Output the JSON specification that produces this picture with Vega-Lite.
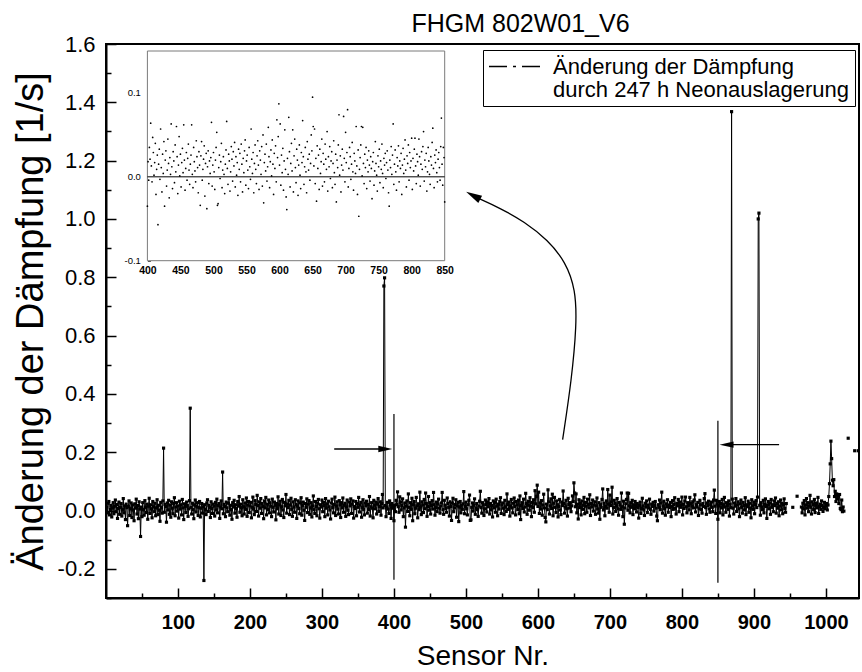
{
"$schema":"https://vega.github.io/schema/vega-lite/v6.json",
"width":753,"height":554,
"autosize":{"type":"none"},
"padding":{"left":106,"top":44,"right":3,"bottom":74},
"background":"white",
"config":{"view":{"stroke":"black","strokeWidth":2},"font":"Liberation Sans","axis":{"grid":false,"labelColor":"black","titleColor":"black","tickColor":"black","domainColor":"black"}},
"datasets":{
"sensors":[
{"x":1,"y":0.012},{"x":2,"y":-0.008},{"x":3,"y":0.025},{"x":4,"y":0.031},{"x":5,"y":-0.015},{"x":6,"y":0.004},{"x":7,"y":0.018},{"x":8,"y":-0.022},{"x":9,"y":0.009},{"x":10,"y":0.027},
{"x":11,"y":-0.011},{"x":12,"y":0.015},{"x":13,"y":0.036},{"x":14,"y":-0.004},{"x":15,"y":0.021},{"x":16,"y":-0.027},{"x":17,"y":0.007},{"x":18,"y":0.029},{"x":19,"y":-0.013},{"x":20,"y":0.011},
{"x":21,"y":0.024},{"x":22,"y":-0.019},{"x":23,"y":0.003},{"x":24,"y":0.041},{"x":25,"y":-0.008},{"x":26,"y":0.016},{"x":27,"y":-0.031},{"x":28,"y":0.022},{"x":29,"y":0.010},{"x":30,"y":-0.052},
{"x":31,"y":0.014},{"x":32,"y":0.033},{"x":33,"y":-0.017},{"x":34,"y":0.006},{"x":35,"y":0.026},{"x":36,"y":-0.024},{"x":37,"y":0.019},{"x":38,"y":0.002},{"x":39,"y":-0.035},{"x":40,"y":0.023},
{"x":41,"y":0.008},{"x":42,"y":0.039},{"x":43,"y":-0.012},{"x":44,"y":0.017},{"x":45,"y":-0.028},{"x":46,"y":0.030},{"x":47,"y":0.005},{"x":48,"y":-0.089},{"x":49,"y":0.012},{"x":50,"y":-0.021},
{"x":51,"y":0.027},{"x":52,"y":0.003},{"x":53,"y":-0.016},{"x":54,"y":0.034},{"x":55,"y":0.011},{"x":56,"y":-0.007},{"x":57,"y":0.022},{"x":58,"y":-0.030},{"x":59,"y":0.015},{"x":60,"y":0.042},
{"x":61,"y":-0.010},{"x":62,"y":0.020},{"x":63,"y":0.006},{"x":64,"y":-0.025},{"x":65,"y":0.031},{"x":66,"y":0.013},{"x":67,"y":-0.004},{"x":68,"y":0.025},{"x":69,"y":-0.018},{"x":70,"y":0.009},
{"x":71,"y":0.037},{"x":72,"y":-0.014},{"x":73,"y":0.018},{"x":74,"y":0.001},{"x":75,"y":-0.037},{"x":76,"y":0.028},{"x":77,"y":0.010},{"x":78,"y":-0.009},{"x":79,"y":0.033},{"x":80,"y":0.214},
{"x":81,"y":-0.006},{"x":82,"y":0.021},{"x":83,"y":0.014},{"x":84,"y":-0.040},{"x":85,"y":0.026},{"x":86,"y":0.002},{"x":87,"y":0.035},{"x":88,"y":-0.013},{"x":89,"y":0.019},{"x":90,"y":-0.023},
{"x":91,"y":0.030},{"x":92,"y":0.008},{"x":93,"y":-0.011},{"x":94,"y":0.024},{"x":95,"y":0.044},{"x":96,"y":-0.018},{"x":97,"y":0.012},{"x":98,"y":0.027},{"x":99,"y":-0.002},{"x":100,"y":0.016},
{"x":101,"y":-0.026},{"x":102,"y":0.032},{"x":103,"y":0.005},{"x":104,"y":0.020},{"x":105,"y":-0.015},{"x":106,"y":0.038},{"x":107,"y":0.009},{"x":108,"y":-0.031},{"x":109,"y":0.023},{"x":110,"y":0.014},
{"x":111,"y":-0.007},{"x":112,"y":0.029},{"x":113,"y":0.017},{"x":114,"y":-0.020},{"x":115,"y":0.006},{"x":116,"y":0.034},{"x":117,"y":0.351},{"x":118,"y":0.011},{"x":119,"y":-0.012},{"x":120,"y":0.025},
{"x":121,"y":0.003},{"x":122,"y":-0.028},{"x":123,"y":0.019},{"x":124,"y":0.036},{"x":125,"y":-0.005},{"x":126,"y":0.015},{"x":127,"y":0.027},{"x":128,"y":-0.017},{"x":129,"y":0.010},{"x":130,"y":0.031},
{"x":131,"y":-0.022},{"x":132,"y":0.008},{"x":133,"y":0.024},{"x":134,"y":-0.009},{"x":135,"y":0.013},{"x":136,"y":-0.240},{"x":137,"y":0.020},{"x":138,"y":0.004},{"x":139,"y":-0.014},{"x":140,"y":0.026},
{"x":141,"y":0.037},{"x":142,"y":-0.003},{"x":143,"y":0.018},{"x":144,"y":0.011},{"x":145,"y":-0.024},{"x":146,"y":0.030},{"x":147,"y":0.007},{"x":148,"y":-0.010},{"x":149,"y":0.022},{"x":150,"y":0.015},
{"x":151,"y":-0.019},{"x":152,"y":0.028},{"x":153,"y":0.002},{"x":154,"y":0.039},{"x":155,"y":-0.008},{"x":156,"y":0.017},{"x":157,"y":0.024},{"x":158,"y":-0.027},{"x":159,"y":0.012},{"x":160,"y":0.033},
{"x":161,"y":0.006},{"x":162,"y":0.132},{"x":163,"y":-0.011},{"x":164,"y":0.021},{"x":165,"y":0.014},{"x":166,"y":-0.021},{"x":167,"y":0.029},{"x":168,"y":0.009},{"x":169,"y":-0.004},{"x":170,"y":0.025},
{"x":171,"y":0.041},{"x":172,"y":-0.016},{"x":173,"y":0.018},{"x":174,"y":0.003},{"x":175,"y":-0.030},{"x":176,"y":0.027},{"x":177,"y":0.012},{"x":178,"y":0.035},{"x":179,"y":-0.009},{"x":180,"y":0.020},
{"x":181,"y":0.007},{"x":182,"y":-0.023},{"x":183,"y":0.031},{"x":184,"y":0.015},{"x":185,"y":0.048},{"x":186,"y":-0.006},{"x":187,"y":0.022},{"x":188,"y":0.010},{"x":189,"y":-0.018},{"x":190,"y":0.037},
{"x":191,"y":0.013},{"x":192,"y":-0.012},{"x":193,"y":0.026},{"x":194,"y":0.004},{"x":195,"y":0.043},{"x":196,"y":-0.020},{"x":197,"y":0.019},{"x":198,"y":0.031},{"x":199,"y":-0.007},{"x":200,"y":0.016},
{"x":201,"y":0.028},{"x":202,"y":-0.025},{"x":203,"y":0.011},{"x":204,"y":0.046},{"x":205,"y":0.005},{"x":206,"y":-0.014},{"x":207,"y":0.034},{"x":208,"y":0.021},{"x":209,"y":-0.003},{"x":210,"y":0.052},
{"x":211,"y":0.017},{"x":212,"y":-0.019},{"x":213,"y":0.030},{"x":214,"y":0.008},{"x":215,"y":0.041},{"x":216,"y":-0.010},{"x":217,"y":0.024},{"x":218,"y":0.014},{"x":219,"y":-0.028},{"x":220,"y":0.033},
{"x":221,"y":0.009},{"x":222,"y":0.045},{"x":223,"y":-0.015},{"x":224,"y":0.022},{"x":225,"y":0.003},{"x":226,"y":0.036},{"x":227,"y":-0.008},{"x":228,"y":0.027},{"x":229,"y":0.015},{"x":230,"y":-0.021},
{"x":231,"y":0.039},{"x":232,"y":0.011},{"x":233,"y":-0.005},{"x":234,"y":0.029},{"x":235,"y":0.018},{"x":236,"y":-0.032},{"x":237,"y":0.024},{"x":238,"y":0.006},{"x":239,"y":0.047},{"x":240,"y":-0.012},
{"x":241,"y":0.020},{"x":242,"y":0.032},{"x":243,"y":-0.017},{"x":244,"y":0.013},{"x":245,"y":0.038},{"x":246,"y":0.002},{"x":247,"y":-0.024},{"x":248,"y":0.028},{"x":249,"y":0.016},{"x":250,"y":0.055},
{"x":251,"y":-0.009},{"x":252,"y":0.023},{"x":253,"y":0.010},{"x":254,"y":0.035},{"x":255,"y":-0.014},{"x":256,"y":0.019},{"x":257,"y":0.042},{"x":258,"y":0.004},{"x":259,"y":-0.020},{"x":260,"y":0.030},
{"x":261,"y":0.012},{"x":262,"y":-0.006},{"x":263,"y":0.037},{"x":264,"y":0.021},{"x":265,"y":-0.027},{"x":266,"y":0.015},{"x":267,"y":0.033},{"x":268,"y":0.007},{"x":269,"y":-0.011},{"x":270,"y":0.026},
{"x":271,"y":0.044},{"x":272,"y":-0.016},{"x":273,"y":0.018},{"x":274,"y":0.029},{"x":275,"y":0.001},{"x":276,"y":-0.034},{"x":277,"y":0.024},{"x":278,"y":0.011},{"x":279,"y":0.040},{"x":280,"y":-0.007},
{"x":281,"y":0.022},{"x":282,"y":0.034},{"x":283,"y":-0.013},{"x":284,"y":0.009},{"x":285,"y":0.027},{"x":286,"y":-0.022},{"x":287,"y":0.016},{"x":288,"y":0.050},{"x":289,"y":0.003},{"x":290,"y":-0.010},
{"x":291,"y":0.031},{"x":292,"y":0.014},{"x":293,"y":-0.018},{"x":294,"y":0.025},{"x":295,"y":0.038},{"x":296,"y":0.006},{"x":297,"y":-0.026},{"x":298,"y":0.020},{"x":299,"y":0.012},{"x":300,"y":0.036},
{"x":301,"y":-0.004},{"x":302,"y":0.028},{"x":303,"y":0.017},{"x":304,"y":-0.021},{"x":305,"y":0.041},{"x":306,"y":0.008},{"x":307,"y":0.023},{"x":308,"y":-0.015},{"x":309,"y":0.032},{"x":310,"y":0.013},
{"x":311,"y":0.002},{"x":312,"y":-0.029},{"x":313,"y":0.026},{"x":314,"y":0.039},{"x":315,"y":0.010},{"x":316,"y":-0.008},{"x":317,"y":0.021},{"x":318,"y":0.046},{"x":319,"y":-0.017},{"x":320,"y":0.015},
{"x":321,"y":0.030},{"x":322,"y":0.005},{"x":323,"y":-0.012},{"x":324,"y":0.034},{"x":325,"y":0.019},{"x":326,"y":-0.024},{"x":327,"y":0.027},{"x":328,"y":0.009},{"x":329,"y":0.043},{"x":330,"y":-0.006},
{"x":331,"y":0.018},{"x":332,"y":0.025},{"x":333,"y":-0.020},{"x":334,"y":0.012},{"x":335,"y":0.036},{"x":336,"y":0.001},{"x":337,"y":-0.014},{"x":338,"y":0.029},{"x":339,"y":0.016},{"x":340,"y":0.040},
{"x":341,"y":-0.010},{"x":342,"y":0.022},{"x":343,"y":0.033},{"x":344,"y":-0.026},{"x":345,"y":0.014},{"x":346,"y":0.007},{"x":347,"y":0.031},{"x":348,"y":-0.018},{"x":349,"y":0.024},{"x":350,"y":0.011},
{"x":351,"y":0.045},{"x":352,"y":-0.005},{"x":353,"y":0.019},{"x":354,"y":0.028},{"x":355,"y":-0.023},{"x":356,"y":0.010},{"x":357,"y":0.037},{"x":358,"y":0.004},{"x":359,"y":-0.015},{"x":360,"y":0.026},
{"x":361,"y":0.016},{"x":362,"y":0.032},{"x":363,"y":-0.009},{"x":364,"y":0.021},{"x":365,"y":0.003},{"x":366,"y":0.048},{"x":367,"y":-0.019},{"x":368,"y":0.013},{"x":369,"y":0.027},{"x":370,"y":0.008},
{"x":371,"y":-0.025},{"x":372,"y":0.035},{"x":373,"y":0.018},{"x":374,"y":0.006},{"x":375,"y":0.029},{"x":376,"y":-0.012},{"x":377,"y":0.022},{"x":378,"y":0.041},{"x":379,"y":-0.003},{"x":380,"y":0.014},
{"x":381,"y":0.030},{"x":382,"y":-0.016},{"x":383,"y":0.024},{"x":384,"y":0.055},{"x":385,"y":0.009},{"x":386,"y":0.770},{"x":387,"y":0.798},{"x":388,"y":0.017},{"x":389,"y":-0.021},{"x":390,"y":0.012},
{"x":391,"y":0.028},{"x":392,"y":0.005},{"x":393,"y":-0.010},{"x":394,"y":0.033},{"x":395,"y":0.019},{"x":396,"y":-0.027},{"x":397,"y":0.024},{"x":398,"y":0.008},{"x":399,"y":0.015},{"x":400,"y":-0.035},
{"x":401,"y":0.018},{"x":402,"y":-0.004},{"x":403,"y":0.035},{"x":404,"y":0.021},{"x":405,"y":0.064},{"x":406,"y":0.013},{"x":407,"y":-0.006},{"x":408,"y":0.047},{"x":409,"y":0.029},{"x":410,"y":0.002},
{"x":411,"y":0.017},{"x":412,"y":0.040},{"x":413,"y":-0.021},{"x":414,"y":0.009},{"x":415,"y":0.026},{"x":416,"y":-0.057},{"x":417,"y":0.015},{"x":418,"y":0.033},{"x":419,"y":-0.003},{"x":420,"y":0.057},
{"x":421,"y":0.011},{"x":422,"y":-0.018},{"x":423,"y":0.027},{"x":424,"y":0.004},{"x":425,"y":0.042},{"x":426,"y":-0.035},{"x":427,"y":0.020},{"x":428,"y":0.031},{"x":429,"y":-0.011},{"x":430,"y":0.008},
{"x":431,"y":0.045},{"x":432,"y":0.016},{"x":433,"y":-0.025},{"x":434,"y":0.023},{"x":435,"y":0.003},{"x":436,"y":0.063},{"x":437,"y":0.012},{"x":438,"y":-0.014},{"x":439,"y":0.030},{"x":440,"y":0.019},
{"x":441,"y":-0.007},{"x":442,"y":0.038},{"x":443,"y":0.006},{"x":444,"y":0.060},{"x":445,"y":0.024},{"x":446,"y":-0.020},{"x":447,"y":0.014},{"x":448,"y":0.048},{"x":449,"y":0.001},{"x":450,"y":0.027},
{"x":451,"y":-0.012},{"x":452,"y":0.017},{"x":453,"y":0.034},{"x":454,"y":0.005},{"x":455,"y":0.062},{"x":456,"y":0.020},{"x":457,"y":-0.016},{"x":458,"y":0.010},{"x":459,"y":0.029},{"x":460,"y":-0.004},
{"x":461,"y":0.022},{"x":462,"y":0.039},{"x":463,"y":0.008},{"x":464,"y":-0.009},{"x":465,"y":0.015},{"x":466,"y":0.026},{"x":467,"y":0.062},{"x":468,"y":0.003},{"x":469,"y":-0.013},{"x":470,"y":0.035},
{"x":471,"y":0.018},{"x":472,"y":0.007},{"x":473,"y":-0.006},{"x":474,"y":0.043},{"x":475,"y":0.024},{"x":476,"y":0.011},{"x":477,"y":-0.019},{"x":478,"y":0.030},{"x":479,"y":0.014},{"x":480,"y":-0.034},
{"x":481,"y":0.025},{"x":482,"y":0.042},{"x":483,"y":-0.004},{"x":484,"y":0.009},{"x":485,"y":0.021},{"x":486,"y":0.037},{"x":487,"y":-0.023},{"x":488,"y":0.016},{"x":489,"y":0.028},{"x":490,"y":-0.038},
{"x":491,"y":0.012},{"x":492,"y":0.031},{"x":493,"y":-0.008},{"x":494,"y":0.019},{"x":495,"y":0.004},{"x":496,"y":0.023},{"x":497,"y":0.065},{"x":498,"y":-0.011},{"x":499,"y":0.014},{"x":500,"y":0.029},
{"x":501,"y":0.006},{"x":502,"y":-0.015},{"x":503,"y":0.020},{"x":504,"y":0.035},{"x":505,"y":0.053},{"x":506,"y":-0.034},{"x":507,"y":-0.032},{"x":508,"y":0.011},{"x":509,"y":0.026},{"x":510,"y":-0.002},
{"x":511,"y":0.018},{"x":512,"y":0.040},{"x":513,"y":-0.013},{"x":514,"y":0.008},{"x":515,"y":0.024},{"x":516,"y":0.003},{"x":517,"y":-0.020},{"x":518,"y":0.015},{"x":519,"y":0.032},{"x":520,"y":0.066},
{"x":521,"y":0.010},{"x":522,"y":-0.009},{"x":523,"y":0.027},{"x":524,"y":0.019},{"x":525,"y":-0.017},{"x":526,"y":0.006},{"x":527,"y":0.036},{"x":528,"y":0.021},{"x":529,"y":-0.005},{"x":530,"y":0.030},
{"x":531,"y":0.013},{"x":532,"y":0.041},{"x":533,"y":-0.012},{"x":534,"y":0.024},{"x":535,"y":0.002},{"x":536,"y":0.017},{"x":537,"y":-0.022},{"x":538,"y":0.033},{"x":539,"y":0.009},{"x":540,"y":0.028},
{"x":541,"y":-0.006},{"x":542,"y":0.039},{"x":543,"y":0.015},{"x":544,"y":-0.018},{"x":545,"y":0.022},{"x":546,"y":0.005},{"x":547,"y":0.031},{"x":548,"y":0.044},{"x":549,"y":-0.010},{"x":550,"y":0.019},
{"x":551,"y":0.026},{"x":552,"y":0.008},{"x":553,"y":-0.014},{"x":554,"y":0.035},{"x":555,"y":0.012},{"x":556,"y":-0.003},{"x":557,"y":0.057},{"x":558,"y":0.021},{"x":559,"y":0.004},{"x":560,"y":0.029},
{"x":561,"y":-0.019},{"x":562,"y":0.016},{"x":563,"y":0.038},{"x":564,"y":0.009},{"x":565,"y":-0.008},{"x":566,"y":0.025},{"x":567,"y":0.043},{"x":568,"y":0.014},{"x":569,"y":-0.015},{"x":570,"y":0.031},
{"x":571,"y":0.020},{"x":572,"y":0.003},{"x":573,"y":0.036},{"x":574,"y":-0.011},{"x":575,"y":0.050},{"x":576,"y":-0.031},{"x":577,"y":0.017},{"x":578,"y":0.027},{"x":579,"y":0.007},{"x":580,"y":0.039},
{"x":581,"y":-0.005},{"x":582,"y":0.012},{"x":583,"y":0.059},{"x":584,"y":0.024},{"x":585,"y":-0.013},{"x":586,"y":0.018},{"x":587,"y":0.032},{"x":588,"y":0.001},{"x":589,"y":0.044},{"x":590,"y":0.015},
{"x":591,"y":-0.021},{"x":592,"y":0.028},{"x":593,"y":0.010},{"x":594,"y":0.037},{"x":595,"y":-0.006},{"x":596,"y":0.068},{"x":597,"y":0.023},{"x":598,"y":0.048},{"x":599,"y":0.087},{"x":600,"y":0.014},
{"x":601,"y":0.063},{"x":602,"y":-0.010},{"x":603,"y":0.026},{"x":604,"y":0.005},{"x":605,"y":0.034},{"x":606,"y":-0.016},{"x":607,"y":0.019},{"x":608,"y":0.056},{"x":609,"y":0.009},{"x":610,"y":-0.024},
{"x":611,"y":-0.039},{"x":612,"y":0.022},{"x":613,"y":0.003},{"x":614,"y":0.071},{"x":615,"y":0.030},{"x":616,"y":-0.012},{"x":617,"y":0.016},{"x":618,"y":0.040},{"x":619,"y":0.007},{"x":620,"y":0.056},
{"x":621,"y":-0.018},{"x":622,"y":0.025},{"x":623,"y":0.045},{"x":624,"y":0.011},{"x":625,"y":-0.007},{"x":626,"y":0.033},{"x":627,"y":0.020},{"x":628,"y":-0.022},{"x":629,"y":0.014},{"x":630,"y":0.038},
{"x":631,"y":0.002},{"x":632,"y":-0.014},{"x":633,"y":0.029},{"x":634,"y":0.017},{"x":635,"y":0.067},{"x":636,"y":0.024},{"x":637,"y":-0.009},{"x":638,"y":0.012},{"x":639,"y":0.035},{"x":640,"y":0.006},
{"x":641,"y":-0.019},{"x":642,"y":0.042},{"x":643,"y":0.021},{"x":644,"y":0.008},{"x":645,"y":0.027},{"x":646,"y":-0.004},{"x":647,"y":0.016},{"x":648,"y":0.050},{"x":649,"y":0.031},{"x":650,"y":0.095},
{"x":651,"y":0.060},{"x":652,"y":0.013},{"x":653,"y":0.057},{"x":654,"y":-0.008},{"x":655,"y":0.022},{"x":656,"y":-0.029},{"x":657,"y":0.037},{"x":658,"y":0.010},{"x":659,"y":0.026},{"x":660,"y":-0.015},
{"x":661,"y":0.033},{"x":662,"y":0.004},{"x":663,"y":0.018},{"x":664,"y":0.045},{"x":665,"y":-0.011},{"x":666,"y":0.028},{"x":667,"y":0.015},{"x":668,"y":-0.006},{"x":669,"y":0.039},{"x":670,"y":0.021},
{"x":671,"y":0.009},{"x":672,"y":0.054},{"x":673,"y":-0.017},{"x":674,"y":0.024},{"x":675,"y":0.012},{"x":676,"y":0.036},{"x":677,"y":-0.002},{"x":678,"y":0.019},{"x":679,"y":0.030},{"x":680,"y":-0.013},
{"x":681,"y":0.016},{"x":682,"y":0.043},{"x":683,"y":0.005},{"x":684,"y":-0.009},{"x":685,"y":0.027},{"x":686,"y":-0.030},{"x":687,"y":0.020},{"x":688,"y":0.011},{"x":689,"y":0.038},{"x":690,"y":0.074},
{"x":691,"y":0.002},{"x":692,"y":0.025},{"x":693,"y":-0.018},{"x":694,"y":0.014},{"x":695,"y":0.033},{"x":696,"y":0.008},{"x":697,"y":0.072},{"x":698,"y":0.022},{"x":699,"y":-0.006},{"x":700,"y":0.053},
{"x":701,"y":0.017},{"x":702,"y":0.029},{"x":703,"y":0.080},{"x":704,"y":-0.012},{"x":705,"y":0.010},{"x":706,"y":0.035},{"x":707,"y":0.024},{"x":708,"y":-0.003},{"x":709,"y":0.015},{"x":710,"y":0.041},
{"x":711,"y":0.006},{"x":712,"y":-0.016},{"x":713,"y":0.028},{"x":714,"y":0.019},{"x":715,"y":0.004},{"x":716,"y":0.060},{"x":717,"y":0.013},{"x":718,"y":-0.021},{"x":719,"y":0.032},{"x":720,"y":-0.047},
{"x":721,"y":0.009},{"x":722,"y":0.023},{"x":723,"y":0.038},{"x":724,"y":0.060},{"x":725,"y":0.001},{"x":726,"y":0.059},{"x":727,"y":0.016},{"x":728,"y":-0.008},{"x":729,"y":0.027},{"x":730,"y":0.011},
{"x":731,"y":0.035},{"x":732,"y":-0.014},{"x":733,"y":0.020},{"x":734,"y":0.006},{"x":735,"y":0.031},{"x":736,"y":0.014},{"x":737,"y":-0.005},{"x":738,"y":0.024},{"x":739,"y":0.010},{"x":740,"y":-0.026},
{"x":741,"y":0.018},{"x":742,"y":0.029},{"x":743,"y":-0.010},{"x":744,"y":0.007},{"x":745,"y":0.042},{"x":746,"y":0.016},{"x":747,"y":0.002},{"x":748,"y":-0.017},{"x":749,"y":0.025},{"x":750,"y":0.012},
{"x":751,"y":0.033},{"x":752,"y":-0.007},{"x":753,"y":0.019},{"x":754,"y":0.009},{"x":755,"y":0.039},{"x":756,"y":0.004},{"x":757,"y":-0.013},{"x":758,"y":0.022},{"x":759,"y":0.014},{"x":760,"y":0.028},
{"x":761,"y":-0.002},{"x":762,"y":0.017},{"x":763,"y":0.031},{"x":764,"y":0.008},{"x":765,"y":-0.019},{"x":766,"y":-0.035},{"x":767,"y":0.020},{"x":768,"y":0.011},{"x":769,"y":0.036},{"x":770,"y":0.003},
{"x":771,"y":0.026},{"x":772,"y":0.063},{"x":773,"y":-0.009},{"x":774,"y":0.015},{"x":775,"y":0.032},{"x":776,"y":0.006},{"x":777,"y":-0.016},{"x":778,"y":0.023},{"x":779,"y":0.013},{"x":780,"y":0.037},
{"x":781,"y":-0.006},{"x":782,"y":0.019},{"x":783,"y":0.010},{"x":784,"y":0.028},{"x":785,"y":-0.021},{"x":786,"y":0.014},{"x":787,"y":0.034},{"x":788,"y":0.004},{"x":789,"y":0.021},{"x":790,"y":0.044},
{"x":791,"y":0.008},{"x":792,"y":-0.012},{"x":793,"y":0.025},{"x":794,"y":0.016},{"x":795,"y":0.038},{"x":796,"y":-0.004},{"x":797,"y":0.029},{"x":798,"y":0.011},{"x":799,"y":0.019},{"x":800,"y":0.046},
{"x":801,"y":-0.015},{"x":802,"y":0.022},{"x":803,"y":0.007},{"x":804,"y":0.033},{"x":805,"y":0.046},{"x":806,"y":0.013},{"x":807,"y":-0.008},{"x":808,"y":0.027},{"x":809,"y":0.018},{"x":810,"y":0.002},
{"x":811,"y":0.045},{"x":812,"y":0.024},{"x":813,"y":-0.011},{"x":814,"y":0.015},{"x":815,"y":0.030},{"x":816,"y":0.009},{"x":817,"y":0.036},{"x":818,"y":0.054},{"x":819,"y":-0.005},{"x":820,"y":0.020},
{"x":821,"y":0.012},{"x":822,"y":0.028},{"x":823,"y":-0.017},{"x":824,"y":0.006},{"x":825,"y":0.035},{"x":826,"y":0.019},{"x":827,"y":0.003},{"x":828,"y":-0.009},{"x":829,"y":0.024},{"x":830,"y":0.014},
{"x":831,"y":0.041},{"x":832,"y":0.058},{"x":833,"y":0.010},{"x":834,"y":-0.013},{"x":835,"y":0.026},{"x":836,"y":0.017},{"x":837,"y":0.032},{"x":838,"y":0.005},{"x":839,"y":-0.006},{"x":840,"y":0.021},
{"x":841,"y":0.029},{"x":842,"y":0.011},{"x":843,"y":-0.004},{"x":844,"y":0.036},{"x":845,"y":0.070},{"x":846,"y":0.015},{"x":847,"y":-0.010},{"x":848,"y":0.035},{"x":849,"y":0.023},{"x":850,"y":-0.030},
{"x":851,"y":0.016},{"x":852,"y":0.031},{"x":853,"y":-0.008},{"x":854,"y":0.024},{"x":855,"y":0.009},{"x":856,"y":0.038},{"x":857,"y":-0.015},{"x":858,"y":0.020},{"x":859,"y":0.045},{"x":860,"y":0.012},
{"x":861,"y":-0.006},{"x":862,"y":0.027},{"x":863,"y":0.017},{"x":864,"y":0.004},{"x":865,"y":0.033},{"x":866,"y":-0.019},{"x":867,"y":0.022},{"x":868,"y":0.010},{"x":869,"y":1.368},{"x":870,"y":0.039},
{"x":871,"y":0.008},{"x":872,"y":-0.012},{"x":873,"y":0.026},{"x":874,"y":0.015},{"x":875,"y":0.041},{"x":876,"y":-0.003},{"x":877,"y":0.019},{"x":878,"y":0.030},{"x":879,"y":0.006},{"x":880,"y":-0.021},
{"x":881,"y":0.023},{"x":882,"y":0.036},{"x":883,"y":0.011},{"x":884,"y":-0.009},{"x":885,"y":0.028},{"x":886,"y":0.017},{"x":887,"y":0.002},{"x":888,"y":0.044},{"x":889,"y":-0.014},{"x":890,"y":0.020},
{"x":891,"y":0.013},{"x":892,"y":0.032},{"x":893,"y":-0.006},{"x":894,"y":0.025},{"x":895,"y":0.008},{"x":896,"y":-0.025},{"x":897,"y":0.037},{"x":898,"y":0.016},{"x":899,"y":0.004},{"x":900,"y":0.029},
{"x":901,"y":-0.011},{"x":902,"y":0.021},{"x":903,"y":0.034},{"x":904,"y":0.010},{"x":905,"y":0.046},{"x":906,"y":1.000},{"x":907,"y":1.020},{"x":908,"y":0.018},{"x":909,"y":-0.016},{"x":910,"y":0.027},
{"x":911,"y":0.012},{"x":912,"y":0.003},{"x":913,"y":0.035},{"x":914,"y":-0.008},{"x":915,"y":0.022},{"x":916,"y":0.040},{"x":917,"y":0.014},{"x":918,"y":-0.027},{"x":919,"y":0.019},{"x":920,"y":0.031},
{"x":921,"y":0.006},{"x":922,"y":0.026},{"x":923,"y":-0.013},{"x":924,"y":0.038},{"x":925,"y":0.011},{"x":926,"y":0.020},{"x":927,"y":-0.004},{"x":928,"y":0.033},{"x":929,"y":0.017},{"x":930,"y":0.043},
{"x":931,"y":-0.009},{"x":932,"y":0.024},{"x":933,"y":0.008},{"x":934,"y":0.030},{"x":935,"y":-0.018},{"x":936,"y":0.015},{"x":937,"y":0.036},{"x":938,"y":0.002},{"x":939,"y":0.025},{"x":940,"y":-0.011},
{"x":941,"y":0.019},{"x":942,"y":0.040},{"x":943,"y":0.007},{"x":944,"y":-0.006},{"x":945,"y":0.024},
{"x":950,"y":null},{"x":954,"y":0.011},{"x":957,"y":null},{"x":960,"y":0.049},{"x":963,"y":null},
{"x":966,"y":0.012},{"x":967,"y":-0.008},{"x":968,"y":0.025},{"x":969,"y":0.005},{"x":970,"y":0.034},{"x":971,"y":-0.015},{"x":972,"y":0.019},{"x":973,"y":0.041},{"x":974,"y":0.008},{"x":975,"y":0.027},
{"x":976,"y":-0.004},{"x":977,"y":0.016},{"x":978,"y":0.052},{"x":979,"y":0.011},{"x":980,"y":-0.012},{"x":981,"y":0.030},{"x":982,"y":0.021},{"x":983,"y":0.003},{"x":984,"y":0.038},{"x":985,"y":-0.007},
{"x":986,"y":0.018},{"x":987,"y":0.026},{"x":988,"y":0.009},{"x":989,"y":0.045},{"x":990,"y":-0.010},{"x":991,"y":0.014},{"x":992,"y":0.022},{"x":993,"y":0.004},{"x":994,"y":0.033},{"x":995,"y":0.017},
{"x":996,"y":-0.003},{"x":997,"y":0.011},{"x":998,"y":0.028},{"x":999,"y":0.006},{"x":1000,"y":0.015},{"x":1001,"y":0.024},{"x":1002,"y":0.002},{"x":1003,"y":0.019},{"x":1004,"y":0.048},{"x":1005,"y":0.092},
{"x":1006,"y":0.160},{"x":1007,"y":0.238},{"x":1008,"y":0.178},{"x":1009,"y":0.104},{"x":1010,"y":0.085},{"x":1011,"y":0.106},{"x":1012,"y":0.048},{"x":1013,"y":0.066},{"x":1014,"y":0.031},{"x":1015,"y":0.057},
{"x":1016,"y":0.040},{"x":1017,"y":0.050},{"x":1018,"y":0.024},{"x":1019,"y":0.055},{"x":1020,"y":0.007},{"x":1021,"y":0.003},{"x":1022,"y":0.036},{"x":1023,"y":-0.004},{"x":1024,"y":0.012},{"x":1025,"y":-0.002},
{"x":1028,"y":null},{"x":1031,"y":0.248},{"x":1035,"y":null},{"x":1040,"y":0.205},{"x":1043,"y":null},{"x":1045,"y":0.205}
],
"curve":[
{"i":1,"x":634.3,"y":0.243},{"i":2,"x":646.8,"y":0.449},{"i":3,"x":653.8,"y":0.637},{"i":4,"x":652.4,"y":0.757},{"i":5,"x":638.5,"y":0.853},{"i":6,"x":613.5,"y":0.928},{"i":7,"x":581.5,"y":0.99},{"i":8,"x":546.8,"y":1.038},{"i":9,"x":516.3,"y":1.072}
]
},
"layer":[
{
"layer":[
{"data":{"name":"sensors"},
 "mark":{"type":"line","strokeWidth":1},
 "encoding":{
  "x":{"field":"x","type":"quantitative","scale":{"domain":[0,1046],"nice":false,"zero":false},
   "axis":{"orient":"bottom","values":[100,200,300,400,500,600,700,800,900,1000],"format":"d","tickSize":-10,"tickWidth":1.5,"domainWidth":2,"labelFont":"Liberation Sans","labelFontSize":20,"labelFontWeight":"bold","labelPadding":24,"labelFlush":false,"title":"Sensor Nr.","titleFont":"Liberation Sans","titleFontSize":28,"titleFontWeight":"normal","titleY":66,"titleBaseline":"alphabetic"}},
  "y":{"field":"y","type":"quantitative","scale":{"domain":[-0.3,1.6],"nice":false,"zero":false},
   "axis":{"orient":"left","values":[-0.2,0,0.2,0.4,0.6,0.8,1,1.2,1.4,1.6],"labelExpr":"replace(format(datum.value,'.1f'),'−','-')","tickSize":-10,"tickWidth":1.5,"domainWidth":2,"labelFont":"Liberation Sans","labelFontSize":22,"labelFontWeight":"normal","labelPadding":21,"labelFlush":false,"title":"Änderung der Dämpfung [1/s]","titleFont":"Liberation Sans","titleFontSize":38,"titleFontWeight":"normal","titleAngle":270,"titleX":-64,"titleY":277,"titleAlign":"center","titleBaseline":"alphabetic"}},
  "color":{"datum":"Änderung der Dämpfung","scale":{"domain":["Änderung der Dämpfung","durch 247 h Neonauslagerung"],"range":["black","black"]},
   "legend":{"orient":"none","legendX":377,"legendY":6,"title":null,"strokeColor":"black","padding":5,"rowPadding":0,"clipHeight":23,"symbolType":"stroke","symbolSize":2601,"symbolStrokeWidth":1.5,"symbolDash":[18,6,3,6],"labelFont":"Liberation Sans","labelFontSize":22,"labelColor":"black","labelOffset":12,"labelLimit":420,
    "encode":{"symbols":{"update":{"opacity":{"signal":"datum.value === 'durch 247 h Neonauslagerung' ? 0 : 1"}}}}}}
 }},
{"data":{"name":"sensors"},
 "mark":{"type":"point","shape":"square","filled":true,"color":"black","size":10,"opacity":1},
 "encoding":{
  "x":{"field":"x","type":"quantitative","axis":{"orient":"bottom","values":[50,150,250,350,450,550,650,750,850,950,1050],"tickSize":-5,"tickWidth":1.5,"labels":false,"domain":false,"title":null}},
  "y":{"field":"y","type":"quantitative","axis":{"orient":"left","values":[-0.3,-0.1,0.1,0.3,0.5,0.7,0.9,1.1,1.3,1.5],"tickSize":-5,"tickWidth":1.5,"labels":false,"domain":false,"title":null}}
 }},
{"data":{"values":[{}]},"mark":{"type":"rule","color":"black","strokeWidth":1.2},
 "encoding":{"x":{"datum":400,"type":"quantitative","axis":{"orient":"top","values":[],"ticks":false,"labels":false,"domain":false,"title":"FHGM 802W01_V6","titleFont":"Liberation Sans","titleFontSize":25,"titleFontWeight":"normal","titleColor":"black","titleX":414,"titleY":-13,"titleAlign":"center","titleAngle":0,"titleBaseline":"alphabetic"}},"y":{"datum":-0.237,"type":"quantitative","axis":null},"y2":{"datum":0.331}}},
{"data":{"values":[{}]},"mark":{"type":"rule","color":"black","strokeWidth":1.2},
 "encoding":{"x":{"datum":850,"type":"quantitative","axis":null},"y":{"datum":-0.248,"type":"quantitative","axis":null},"y2":{"datum":0.308}}},
{"data":{"values":[{}]},"mark":{"type":"rule","color":"black","strokeWidth":1.3},
 "encoding":{"x":{"datum":317,"type":"quantitative","axis":null},"x2":{"datum":390},"y":{"datum":0.211,"type":"quantitative","axis":null}}},
{"data":{"values":[{}]},"mark":{"type":"rule","color":"black","strokeWidth":1.3},
 "encoding":{"x":{"datum":860,"type":"quantitative","axis":null},"x2":{"datum":935},"y":{"datum":0.226,"type":"quantitative","axis":null}}},
{"data":{"values":[{}]},"mark":{"type":"point","shape":"M1,0L-1,-0.45L-1,0.45Z","filled":true,"color":"black","opacity":1,"size":196},
 "encoding":{"x":{"datum":388,"type":"quantitative","axis":null},"y":{"datum":0.211,"type":"quantitative","axis":null}}},
{"data":{"values":[{}]},"mark":{"type":"point","shape":"M-1,0L1,-0.45L1,0.45Z","filled":true,"color":"black","opacity":1,"size":196},
 "encoding":{"x":{"datum":862,"type":"quantitative","axis":null},"y":{"datum":0.226,"type":"quantitative","axis":null}}},
{"data":{"name":"curve"},
 "mark":{"type":"line","color":"black","strokeWidth":1.3,"interpolate":"basis"},
 "encoding":{"x":{"field":"x","type":"quantitative","axis":null},"y":{"field":"y","type":"quantitative","axis":null},"order":{"field":"i","type":"quantitative"}}},
{"data":{"values":[{}]},"mark":{"type":"point","shape":"M0,-1L0.5,1L-0.5,1Z","filled":true,"color":"black","opacity":1,"size":256,"angle":-62},
 "encoding":{"x":{"datum":510,"type":"quantitative","axis":null},"y":{"datum":1.08,"type":"quantitative","axis":null}}}
],
"resolve":{"axis":{"x":"independent","y":"independent"}}
},
{
"layer":[
{"data":{"values":[{}]},"mark":{"type":"rect","fill":"white","stroke":"#7a7a7a","strokeWidth":1},
 "encoding":{
  "x":{"datum":400,"type":"quantitative","scale":{"domain":[400,850],"range":[41.4,338.7],"nice":false,"zero":false},
   "axis":{"orient":"bottom","offset":-337.3,"values":[400,450,500,550,600,650,700,750,800,850],"format":"d","domain":false,"ticks":false,"labelFont":"Liberation Sans","labelFontSize":10.5,"labelFontWeight":"bold","labelPadding":5,"labelFlush":false,"title":null}},
  "x2":{"datum":850},
  "y":{"datum":-0.1,"type":"quantitative","scale":{"domain":[-0.1,0.15],"range":[216.7,7],"nice":false,"zero":false},
   "axis":{"orient":"left","offset":-41.4,"values":[-0.1,0,0.1],"labelExpr":"replace(format(datum.value,'.1f'),'−','-')","domain":false,"tickSize":-3,"tickWidth":1,"tickColor":"#555","labelFont":"Liberation Sans","labelFontSize":9.5,"labelFontWeight":"normal","labelPadding":10,"labelFlush":false,"title":null}},
  "y2":{"datum":0.15}
 }},
{"data":{"values":[{}]},"mark":{"type":"rule","color":"black","strokeWidth":1},
 "encoding":{"x":{"datum":400,"type":"quantitative"},"x2":{"datum":850},"y":{"datum":0,"type":"quantitative"}}},
{"data":{"name":"sensors"},
 "transform":[{"filter":"datum.x >= 400 && datum.x <= 850 && isValid(datum.y)"}],
 "mark":{"type":"point","shape":"circle","filled":true,"color":"black","opacity":1,"size":3},
 "encoding":{"x":{"field":"x","type":"quantitative"},"y":{"field":"y","type":"quantitative"}}}
]
}
],
"resolve":{"scale":{"x":"independent","y":"independent","color":"independent"}}
}
